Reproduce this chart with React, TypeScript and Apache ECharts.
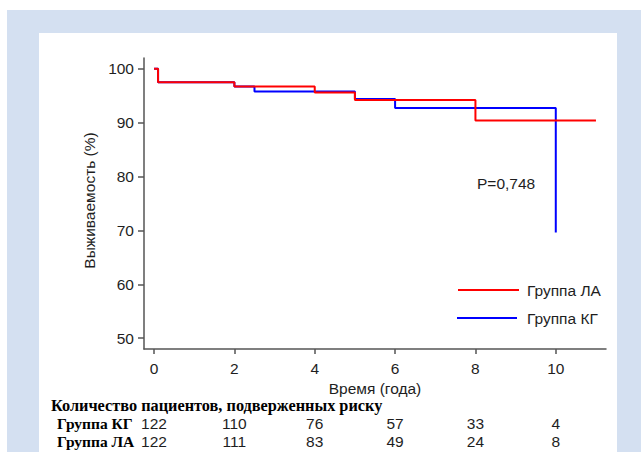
import React, { useEffect, useRef } from "react";
import * as echarts from "echarts";

// Kaplan–Meier data (time in years, survival %)
const timesLA = [0, 0.1, 2, 4, 5, 8, 11];
const survLA = [100, 97.5, 96.7, 95.6, 94.2, 90.4, 90.4];
const timesKG = [0, 0.1, 2, 2.5, 5, 6, 10];
const survKG = [100, 97.5, 96.7, 95.8, 94.4, 92.7, 69.6];

const xTicks = [0, 2, 4, 6, 8, 10];
const yTicks = [50, 60, 70, 80, 90, 100];
const riskKG = [122, 110, 76, 57, 33, 4];
const riskLA = [122, 111, 83, 49, 24, 8];

const nameLA = "Группа ЛА";
const nameKG = "Группа КГ";
const pValue = "P=0,748";

const SANS = "'Liberation Sans', Arial, sans-serif";
const SERIF = "'Liberation Serif', 'Times New Roman', serif";
const TXT = "#1e1e1e";
const AXIS = "#555555";
const FS = 15.5;

function App() {
  const ref = useRef<HTMLDivElement>(null);
  useEffect(() => {
    if (!ref.current) return;
    const chart = echarts.init(ref.current, undefined, { renderer: "svg" });
    const pairs = (t: number[], s: number[]) => t.map((x, i) => [x, s[i]]);
    const riskAxis = (vals: number[], offset: number) => ({
      type: "value",
      min: -0.25,
      max: 11.25,
      position: "bottom",
      offset,
      axisLine: { show: false },
      axisTick: { show: false },
      splitLine: { show: false },
      axisLabel: {
        customValues: xTicks,
        margin: 11,
        fontFamily: SANS,
        fontSize: FS,
        color: TXT,
        formatter: (v: number) => String(vals[xTicks.indexOf(v)] ?? ""),
      },
    });
    chart.setOption({
      animation: false,
      backgroundColor: "transparent",
      grid: { left: 144, top: 58, right: 35, bottom: 103, containLabel: false },
      xAxis: [
        {
          type: "value",
          min: -0.25,
          max: 11.25,
          name: "Время (года)",
          nameLocation: "middle",
          nameGap: 28,
          nameTextStyle: { fontFamily: SANS, fontSize: FS, color: TXT },
          axisLine: { show: true, onZero: false, lineStyle: { color: AXIS, width: 1.5 } },
          axisTick: { show: true, customValues: xTicks, length: 5, lineStyle: { color: AXIS, width: 1.5 } },
          axisLabel: { customValues: xTicks, margin: 11, fontFamily: SANS, fontSize: FS, color: TXT },
          splitLine: { show: false },
        },
        riskAxis(riskKG, 55),
        riskAxis(riskLA, 73.5),
      ],
      yAxis: {
        type: "value",
        min: 48,
        max: 102,
        name: "Выживаемость (%)",
        nameLocation: "middle",
        nameGap: 47,
        nameTextStyle: { fontFamily: SANS, fontSize: FS, color: TXT, padding: [0, 0, 0, 6] },
        axisLine: { show: true, onZero: false, lineStyle: { color: AXIS, width: 1.5 } },
        axisTick: { show: true, customValues: yTicks, length: 6, lineStyle: { color: AXIS, width: 1.5 } },
        axisLabel: { customValues: yTicks, margin: 10, fontFamily: SANS, fontSize: FS, color: TXT },
        splitLine: { show: false },
      },
      series: [
        {
          name: nameKG,
          type: "line",
          step: "end",
          showSymbol: false,
          data: pairs(timesKG, survKG),
          lineStyle: { color: "#0000ff", width: 2 },
          itemStyle: { color: "#0000ff" },
          z: 2,
        },
        {
          name: nameLA,
          type: "line",
          step: "end",
          showSymbol: false,
          data: pairs(timesLA, survLA),
          lineStyle: { color: "#ff0000", width: 2 },
          itemStyle: { color: "#ff0000" },
          z: 3,
        },
      ],
      graphic: [
        {
          type: "text",
          x: 477,
          y: 183,
          style: { text: pValue, fontFamily: SANS, fontSize: FS, fill: TXT, verticalAlign: "middle" },
        },
        {
          type: "line",
          shape: { x1: 458, y1: 290, x2: 519, y2: 290 },
          style: { stroke: "#ff0000", lineWidth: 2 },
        },
        {
          type: "text",
          x: 527,
          y: 290,
          style: { text: nameLA, fontFamily: SANS, fontSize: FS, fill: TXT, verticalAlign: "middle" },
        },
        {
          type: "line",
          shape: { x1: 457, y1: 318, x2: 517, y2: 318 },
          style: { stroke: "#0000ff", lineWidth: 2 },
        },
        {
          type: "text",
          x: 527,
          y: 318,
          style: { text: nameKG, fontFamily: SANS, fontSize: FS, fill: TXT, verticalAlign: "middle" },
        },
        {
          type: "text",
          x: 51,
          y: 405,
          style: {
            text: "Количество пациентов, подверженных риску",
            fontFamily: SERIF,
            fontWeight: "bold",
            fontSize: 16.3,
            fill: "#000",
            verticalAlign: "middle",
          },
        },
        {
          type: "text",
          x: 57,
          y: 423,
          style: { text: nameKG, fontFamily: SERIF, fontWeight: "bold", fontSize: 15.5, fill: "#000", verticalAlign: "middle" },
        },
        {
          type: "text",
          x: 57,
          y: 441.5,
          style: { text: nameLA, fontFamily: SERIF, fontWeight: "bold", fontSize: 15.5, fill: "#000", verticalAlign: "middle" },
        },
      ],
    });
    return () => chart.dispose();
  }, []);

  return (
    <div style={{ position: "fixed", left: 0, top: 0, width: 641, height: 452, background: "#ffffff", overflow: "hidden" }}>
      <div style={{ position: "absolute", left: 7, top: 10, width: 634, height: 442, background: "#d4e0f1" }} />
      <div style={{ position: "absolute", left: 39, top: 33, width: 578, height: 419, background: "#ffffff" }} />
      <div ref={ref} style={{ position: "absolute", left: 0, top: 0, width: 641, height: 452 }} />
    </div>
  );
}

export default App;
